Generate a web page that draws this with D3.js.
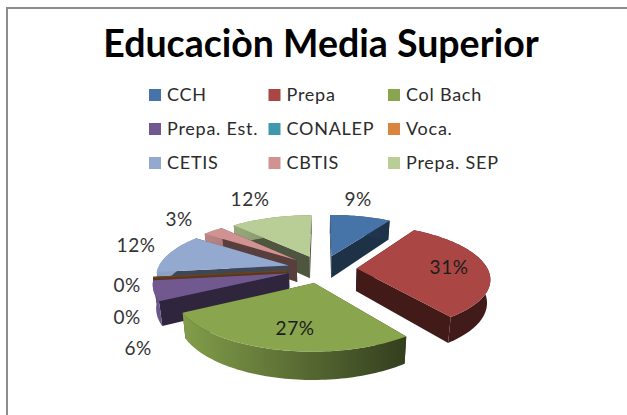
<!DOCTYPE html>
<html><head><meta charset="utf-8">
<script src="https://cdn.jsdelivr.net/npm/d3@7"></script>
<style>html,body{margin:0;padding:0;background:#fff}svg{display:block}text{font-family:Lato,"Open Sans",sans-serif;fill:#2b2b2b}</style>
</head><body><svg id="c" width="627" height="415"></svg>
<script>
const titleText = "Educaciòn Media Superior";
const categories = ["CCH","Prepa","Col Bach","Prepa. Est.","CONALEP","Voca.","CETIS","CBTIS","Prepa. SEP"];
const values = [9,31,27,6,0,0,12,3,12];
const colors = ["#4674a8","#aa4644","#89a54e","#71588f","#4098af","#db843d","#93a9cf","#d19392","#b9cd96"];
const labelCx = [358,449,295,138,127,127,136,179,250];
const labelCy = [199,267,328,348,317,285,245,219,199];
const showIn = [false,true,true,false,false,false,false,false,false];

const svg = d3.select("#c");
const W=627,H=415;
svg.append("rect").attr("x",7).attr("y",8).attr("width",W+10).attr("height",H+10).attr("fill","#fff").attr("stroke","#8c8c8c").attr("stroke-width",2);
svg.append("text").attr("x",321).attr("y",57).attr("text-anchor","middle").attr("font-size",37.5).attr("font-weight",700).style("fill","#000").text(titleText);

const legX = d3.scalePoint().domain([0,1,2]).range([149,388]);
const legY = d3.scalePoint().domain([0,1,2]).range([95,163]);
const leg = svg.append("g").selectAll("g").data(categories).join("g")
 .attr("transform",(d,i)=>`translate(${legX(i%3)},${legY(Math.floor(i/3))})`);
leg.append("rect").attr("x",0).attr("y",-6).attr("width",12).attr("height",12).attr("fill",(d,i)=>colors[i]);
leg.append("text").attr("x",18).attr("y",6).attr("font-size",18).style("letter-spacing","0.75px").text(d=>d);

// perspective pie
const cx=322,cy=269,rx=131,a=52,p=0.165,ex=0.265,depth=22.5;
function P(ang,r,h,e){
  const X=r*Math.sin(ang)+e.x, Y=-r*Math.cos(ang)+e.y;
  const s=(1/(1-p*Y))*(1-0.02*h);
  return [cx+rx*X*s, cy+(a*Y+depth*h)*s/(1-0.02*h)];
}
const pie=d3.pie().value(d=>d).sort(null)(values);
const defs=svg.append("defs");
const line=d3.line();
function rim(d,h,e,rev){
  const n=Math.max(2,Math.ceil((d.endAngle-d.startAngle)*40));
  const pts=d3.range(n+1).map(i=>P(d.startAngle+(d.endAngle-d.startAngle)*i/n,1,h,e));
  return rev?pts.reverse():pts;
}
const items=pie.map((d,i)=>{
  const m=(d.startAngle+d.endAngle)/2;
  return {d,i,m,e:{x:ex*Math.sin(m),y:-ex*Math.cos(m)},key:-Math.cos(m)};
}).sort((u,v)=>u.key-v.key);
const g=svg.append("g");
items.forEach(it=>{
  const {d,i,e}=it, col=d3.color(colors[i]);
  const top=rim(d,0,e), c0=P(0,0,0,e), c1=P(0,0,1,e);
  const A0=P(d.startAngle,1,0,e),A1=P(d.startAngle,1,1,e),B0=P(d.endAngle,1,0,e),B1=P(d.endAngle,1,1,e);
  const dark=d3.rgb(col.r*0.42,col.g*0.42,col.b*0.42);
  const sl=g.append("g");
  if(i===1){dark.r=66;dark.g=26;dark.b=24;}
  sl.append("path").attr("d",line([c0,A0,A1,c1])+"Z").attr("fill",dark);
  sl.append("path").attr("d",line([c0,B0,B1,c1])+"Z").attr("fill",dark);
  const gid="g"+i;
  const lg=defs.append("linearGradient").attr("id",gid).attr("gradientUnits","userSpaceOnUse")
    .attr("x1",184).attr("x2",490).attr("y1",0).attr("y2",0);
  lg.append("stop").attr("offset",0).attr("stop-color",d3.rgb(col.r*0.95,col.g*0.95,col.b*0.95));
  lg.append("stop").attr("offset",0.72).attr("stop-color",d3.rgb(col.r*0.38,col.g*0.38,col.b*0.38));
  lg.append("stop").attr("offset",1).attr("stop-color",d3.rgb(col.r*0.38,col.g*0.38,col.b*0.38));
  sl.append("path").attr("d",line(top.concat(rim(d,1,e,true)))+"Z").attr("fill",`url(#${gid})`);
  if(d.value===0){
    sl.append("path").attr("d",line([c0,A0])).attr("fill","none").attr("stroke",d3.rgb(col.r*0.5,col.g*0.5,col.b*0.5)).attr("stroke-width",1.3);
  } else {
    sl.append("path").attr("d",line([c0].concat(top))+"Z").attr("fill",colors[i]);
  }
});
svg.append("g").selectAll("text").data(values).join("text")
 .attr("x",(d,i)=>labelCx[i]).attr("y",(d,i)=>labelCy[i]+6.5).attr("text-anchor","middle").attr("font-size",19).style("letter-spacing","0.5px")
 .style("fill",(d,i)=>showIn[i]?"#1c1c1c":"#333").text(d=>d+"%");
</script></body></html>
